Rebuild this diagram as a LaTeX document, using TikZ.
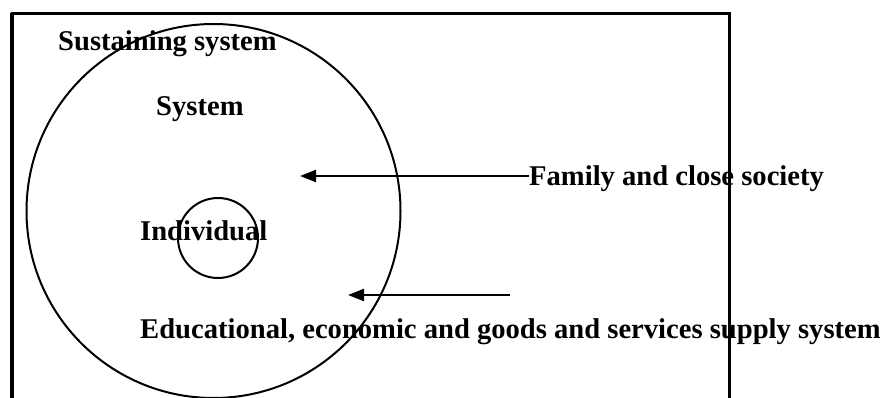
\documentclass[tikz,border=0pt]{standalone}
\usepackage{fontspec}
\setmainfont{Liberation Serif}
\usetikzlibrary{arrows.meta}
\begin{document}
\begin{tikzpicture}[x=1pt,y=-1pt,
  lbl/.style={anchor=base west,inner sep=0pt,font=\fontsize{28.6}{32}\selectfont\bfseries},
  ring/.style={draw,line width=2pt},
  arr/.style={line width=2.2pt,-{Triangle[length=16pt,width=12pt]}}]
\useasboundingbox (0,0) rectangle (886,397);
\fill[white] (0,0) rectangle (886,397);
% frame (bottom edge lies outside the picture)
\draw[line width=4pt] (12,405) -- (12,13);
\draw[line width=3pt] (10.5,13) -- (729,13) -- (729,405);
% circles
\node[ring,circle,minimum size=374pt,inner sep=0pt] (outer) at (213.5,211) {};
\node[ring,circle,minimum size=80pt,inner sep=0pt] (inner) at (218,238) {};
% labels
\node[lbl] (sust) at (58,50) {Sustaining system};
\node[lbl] (sys) at (156,115) {System};
\node[lbl] (ind) at (140,240) {Individual};
\node[lbl] (fam) at (529,185) {Family and close society};
\node[lbl] (edu) at (140,338) {Educational, economic and goods and services supply system};
% arrows
\coordinate (t1) at (300,176);
\coordinate (s2) at (510,295);
\coordinate (t2) at (348,295);
\draw[arr] (fam.base west |- t1) -- (t1);
\draw[arr] (s2) -- (t2);
\end{tikzpicture}
\end{document}
